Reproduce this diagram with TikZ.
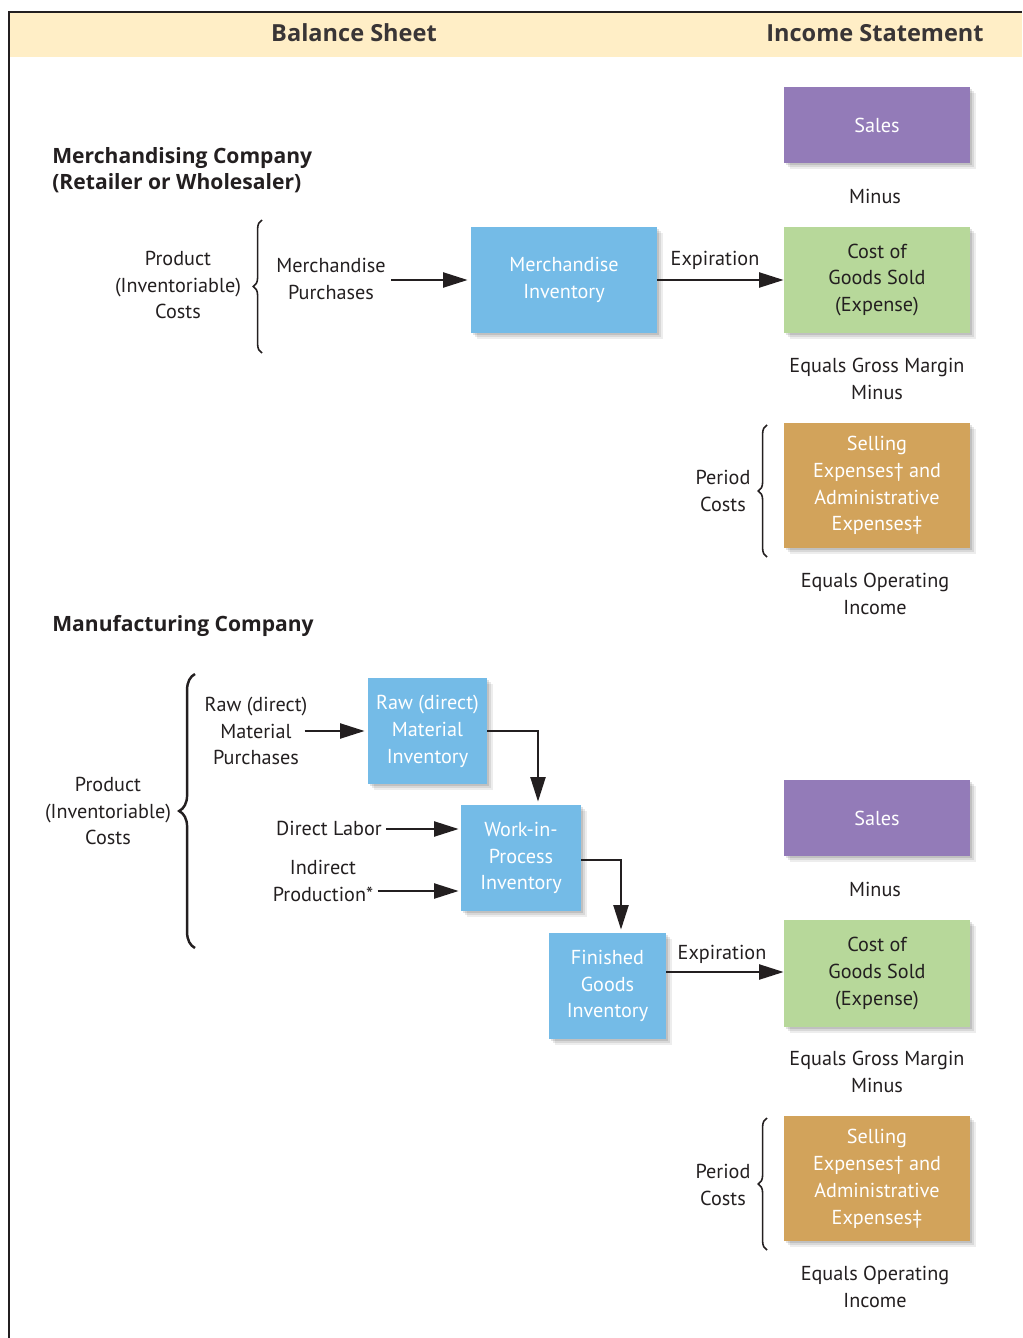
\documentclass[tikz,border=0pt]{standalone}
\usepackage{fontspec}
\setmainfont{PT Sans}
\newfontfamily\headfont{Open Sans}
\usetikzlibrary{arrows.meta,shadows,decorations.pathreplacing,calc}
\definecolor{ink}{HTML}{231F20}
\definecolor{headfill}{HTML}{FFEEC6}
\definecolor{purplebox}{HTML}{937BB8}
\definecolor{greenbox}{HTML}{B7D89A}
\definecolor{tanbox}{HTML}{D2A35B}
\definecolor{bluebox}{HTML}{74BBE7}
\begin{document}
\begin{tikzpicture}[x=0.02cm,y=-0.02cm,
  every node/.style={font=\fontsize{11.5}{15.3}\selectfont, text=ink},
  txt/.style={align=center, inner sep=0pt},
  hdr/.style={inner sep=0pt, font=\headfont\bfseries\fontsize{13.4}{15}\selectfont, text=ink!90},
  sec/.style={inner sep=0pt, anchor=west, align=left, font=\headfont\bfseries\fontsize{12}{14.6}\selectfont, text=ink},
  box/.style={draw=none, align=center, inner sep=2pt, minimum width=3.72cm,
    general shadow={fill=black, opacity=0.07, shadow xshift=3.4pt, shadow yshift=-3.4pt},
    general shadow={fill=black, opacity=0.09, shadow xshift=2.4pt, shadow yshift=-2.4pt},
    general shadow={fill=black, opacity=0.11, shadow xshift=1.4pt, shadow yshift=-1.4pt}},
  arr/.style={draw=ink, line width=1.4pt, -{Triangle[length=14pt,width=8.5pt]}},
  brc/.style={draw=ink, line width=0.9pt, decorate, decoration={brace, amplitude=5pt}}
]
\useasboundingbox (0,0) rectangle (1022,1338);
% frame and header
\fill[headfill] (10,13) rectangle (1022,57);
\draw[ink, line width=1.6pt] (9,1338) -- (9,12) -- (1022,12);
\node[hdr] (bs) at (354,33) {Balance Sheet};
\node[hdr] (is) at (875,33) {Income Statement};

% ---------- Merchandising ----------
\node[sec] (mc) at (52,170) {Merchandising Company\\(Retailer or Wholesaler)};
\node[box, fill=purplebox, minimum height=1.52cm, text=white] (sales1) at (877,125) {Sales};
\node[txt] (minus1) at (875,196) {Minus};
\node[box, fill=greenbox, minimum height=2.12cm] (cogs1) at (877,280) {Cost of\\Goods Sold\\(Expense)};
\node[txt] (egm1) at (877,379) {Equals Gross Margin\\Minus};
\node[box, fill=tanbox, minimum height=2.5cm, text=white] (sell1) at (877,485.5) {Selling\\Expenses\textdagger{} and\\Administrative\\Expenses\textdaggerdbl};
\node[txt] (eoi1) at (875,594) {Equals Operating\\Income};
\node[txt] (pc1) at (723,491) {Period\\Costs};
\draw[brc] (767,557) -- (767,425);

\node[txt] (pic1) at (178,285) {Product\\(Inventoriable)\\Costs};
\draw[brc] (262,353) -- (262,220);
\node[txt] (mp) at (331,279) {Merchandise\\Purchases};
\node[box, fill=bluebox, minimum height=2.12cm, text=white] (mi) at (564,280) {Merchandise\\Inventory};
\draw[arr] ($(mp.east)+(5,1)$) -- ($(mi.west)+(-3,0)$);
\draw[arr] (mi.east) -- (mi.east -| cogs1.west);
\node[txt] (exp1) at (715,260) {Expiration};

% ---------- Manufacturing ----------
\node[sec] (manc) at (52,626) {Manufacturing Company};
\node[txt] (pic2) at (108,811) {Product\\(Inventoriable)\\Costs};
\draw[brc, line width=1.4pt, decoration={brace, amplitude=9pt}] (195,948) -- (195,674);
\node[txt] (rmp) at (256,731) {Raw (direct)\\Material\\Purchases};
\node[box, fill=bluebox, minimum width=2.38cm, minimum height=2.12cm, text=white] (rmi) at (427.5,731) {Raw (direct)\\Material\\Inventory};
\draw[arr] ($(rmp.east)+(-3,0)$) -- ($(rmi.west)+(-3,0)$);
\node[box, fill=bluebox, minimum width=2.4cm, minimum height=2.12cm, text=white] (wip) at (521,858) {Work-in-\\Process\\Inventory};
\draw[arr] (rmi.east) -| ($(wip.north)+(17,-3)$);
\node[txt] (dl) at (329,828) {Direct Labor};
\draw[arr] ($(dl.east)+(4,1)$) -- ($(dl.east -| wip.west)+(-2,1)$);
\node[txt] (ip) at (323,881) {Indirect\\Production*};
\draw[arr] ($(ip.east)+(4,10)$) -- ($(ip.east -| wip.west)+(-2,10)$);
\node[box, fill=bluebox, minimum width=2.34cm, minimum height=2.12cm, text=white] (fg) at (607.5,986) {Finished\\Goods\\Inventory};
\draw[arr] ($(wip.east)+(0,2)$) -| ($(fg.north)+(13.5,-3)$);

\node[box, fill=purplebox, minimum height=1.52cm, text=white] (sales2) at (877,818) {Sales};
\node[txt] (minus2) at (875,889) {Minus};
\node[box, fill=greenbox, minimum height=2.14cm] (cogs2) at (877,973.5) {Cost of\\Goods Sold\\(Expense)};
\coordinate (fgout) at ($(fg.east)+(0,-14)$);
\draw[arr] (fgout) -- (fgout -| cogs2.west);
\node[txt] (exp2) at (722,954) {Expiration};
\node[txt] (egm2) at (877,1072) {Equals Gross Margin\\Minus};
\node[box, fill=tanbox, minimum height=2.5cm, text=white] (sell2) at (877,1178.5) {Selling\\Expenses\textdagger{} and\\Administrative\\Expenses\textdaggerdbl};
\node[txt] (eoi2) at (875,1287) {Equals Operating\\Income};
\node[txt] (pc2) at (723,1185) {Period\\Costs};
\draw[brc] (767,1250) -- (767,1118);
\end{tikzpicture}
\end{document}
